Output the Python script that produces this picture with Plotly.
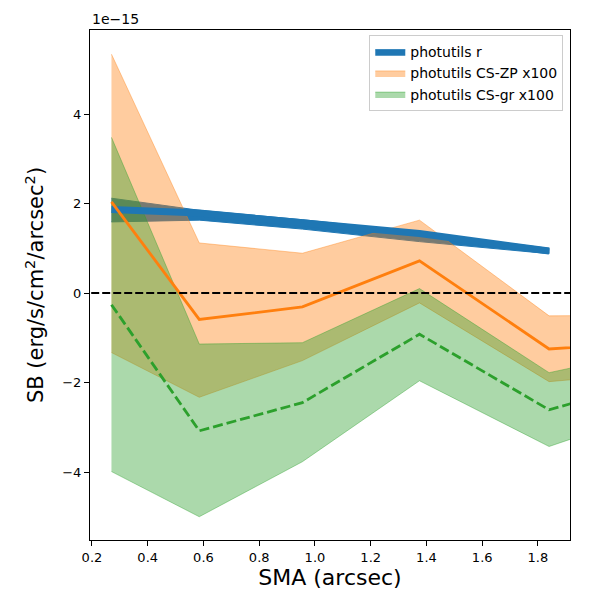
import plotly.graph_objects as go

# surface brightness profiles, values in units of 1e-15 erg/s/cm2/arcsec2
sma = [0.27, 0.585, 0.955, 1.375, 1.84, 2.35]

r_sma = sma[:5]
r_line = [1.87, 1.79, 1.57, 1.33, 0.94]
r_lo = [1.59, 1.63, 1.43, 1.15, 0.88]
r_hi = [2.12, 1.85, 1.64, 1.36, 1.00]

zp_mean = [2.04, -0.59, -0.31, 0.72, -1.25, -1.05]
zp_lo = [-1.33, -2.33, -1.51, -0.22, -1.98, -1.71]
zp_hi = [5.34, 1.12, 0.89, 1.63, -0.51, -0.48]

gr_mean = [-0.26, -3.08, -2.45, -0.92, -2.61, -1.70]
gr_lo = [-3.99, -5.00, -3.77, -1.96, -3.43, -2.35]
gr_hi = [3.48, -1.14, -1.11, 0.10, -1.78, -1.10]

BLUE = "#1f77b4"
ORANGE = "#ff7f0e"
GREEN = "#2ca02c"
FONT = "DejaVu Sans"


def band(x, lo, hi, color, name):
    return go.Scatter(
        x=list(x) + list(x)[::-1],
        y=list(hi) + list(lo)[::-1],
        fill="toself",
        fillcolor=color,
        line=dict(color=color, width=1),
        mode="lines",
        name=name,
        hoverinfo="skip",
    )


fig = go.Figure()
fig.add_trace(band(r_sma, r_lo, r_hi, BLUE, "photutils r"))
fig.add_trace(band(sma, zp_lo, zp_hi, "rgba(255,127,14,0.4)", "photutils CS-ZP x100"))
fig.add_trace(band(sma, gr_lo, gr_hi, "rgba(44,160,44,0.4)", "photutils CS-gr x100"))

fig.add_trace(go.Scatter(x=r_sma, y=r_line, mode="lines", showlegend=False,
                         line=dict(color=BLUE, width=7)))
fig.add_trace(go.Scatter(x=sma, y=zp_mean, mode="lines", showlegend=False,
                         line=dict(color=ORANGE, width=2.8)))
fig.add_trace(go.Scatter(x=sma, y=gr_mean, mode="lines", showlegend=False,
                         line=dict(color=GREEN, width=2.8, dash="10px,4px")))
fig.add_trace(go.Scatter(x=[0.0, 3.0], y=[0, 0], mode="lines", showlegend=False,
                         line=dict(color="black", width=2, dash="8px,3px")))

axis_common = dict(
    showline=True, linecolor="black", linewidth=1, mirror=True,
    ticks="outside", ticklen=5, tickcolor="black",
    showgrid=False, zeroline=False,
    tickfont=dict(family=FONT, size=13, color="black"),
)

# page body has an 8px margin, so the margins are shifted to keep the axes box in place
fig.update_layout(
    width=600, height=600,
    margin=dict(l=82, r=38, t=22, b=68),
    plot_bgcolor="white", paper_bgcolor="white",
    font=dict(family=FONT, color="black"),
    xaxis=dict(range=[0.193, 1.915], tickvals=[0.2, 0.4, 0.6, 0.8, 1.0, 1.2, 1.4, 1.6, 1.8],
               tickformat=".1f",
               title=dict(text="SMA (arcsec)", font=dict(family=FONT, size=22), standoff=6),
               **axis_common),
    yaxis=dict(range=[-5.52, 5.88], tickvals=[-4, -2, 0, 2, 4],
               title=dict(text="SB (erg/s/cm<sup>2</sup>/arcsec<sup>2</sup>)",
                          font=dict(family=FONT, size=21), standoff=12),
               **axis_common),
    legend=dict(x=0.986, y=0.99, xanchor="right", yanchor="top",
                bgcolor="rgba(255,255,255,0.8)", bordercolor="#cccccc", borderwidth=1,
                font=dict(family=FONT, size=14)),
    annotations=[dict(text="1e\u221215", xref="paper", yref="paper", x=0, y=1,
                      xanchor="left", yanchor="bottom", showarrow=False, yshift=1,
                      font=dict(family=FONT, size=14))],
)

fig.write_html("out.html")
